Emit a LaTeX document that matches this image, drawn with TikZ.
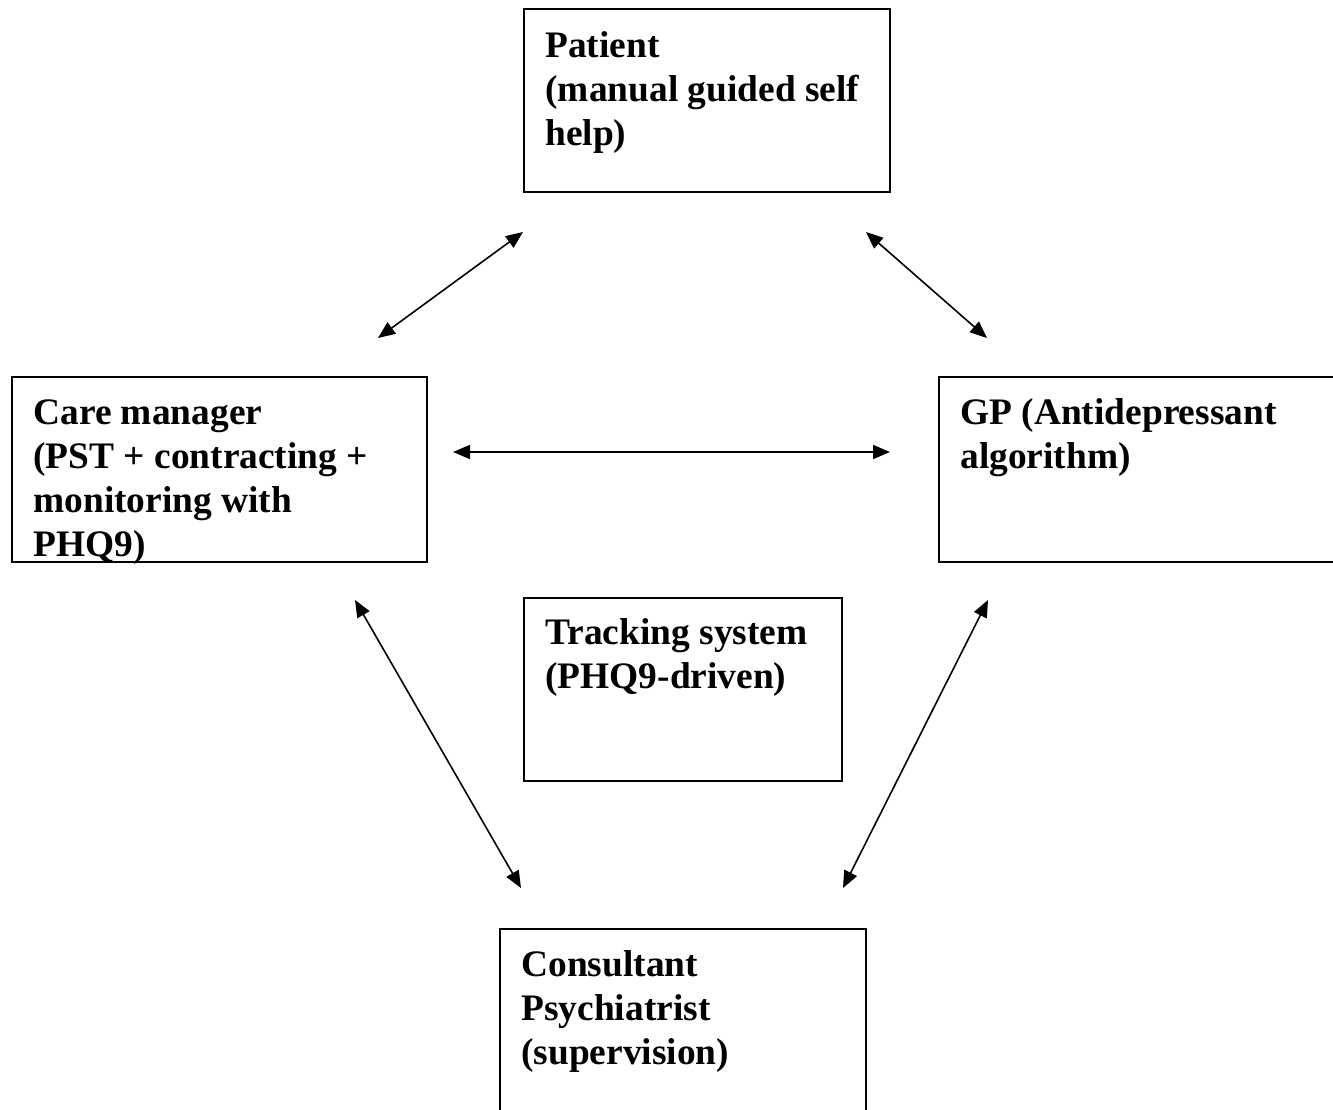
\documentclass[tikz,border=0pt]{standalone}
\usepackage{fontspec}
\setmainfont{Liberation Serif}
\usetikzlibrary{arrows.meta}

\tikzset{
  box/.style={draw,line width=1pt,inner sep=0pt,outer sep=0pt,anchor=north west},
  boxtext/.style={anchor=north west,inner sep=0pt,align=left,
    font=\fontsize{18.7pt}{22pt}\selectfont\bfseries},
  link/.style={{Triangle[length=8.5pt,width=7pt]}-{Triangle[length=8.5pt,width=7pt]},line width=0.8pt}
}

\begin{document}
\begin{tikzpicture}[x=0.5pt,y=-0.5pt]
\useasboundingbox (0,0) rectangle (1333,1109);
\clip (0,0) rectangle (1333,1109);

% boxes
\node[box,minimum width=183pt,minimum height=91.5pt] (patient) at (524,9) {};
\node[box,minimum width=207.5pt,minimum height=92.5pt] (care) at (12,377) {};
\node[box,minimum width=210pt,minimum height=92.5pt] (gp) at (939,377) {};
\node[box,minimum width=159pt,minimum height=91.5pt] (track) at (524,598) {};
\node[box,minimum width=183pt,minimum height=100pt] (consult) at (500,929) {};

% texts
\node[boxtext] (patient text) at ([shift={(21,22)}]patient.north west)
  {Patient\\(manual guided self\\help)};
\node[boxtext] (care text) at ([shift={(21,22)}]care.north west)
  {Care manager\\(PST + contracting +\\monitoring with\\PHQ9)};
\node[boxtext] (gp text) at ([shift={(21,21)}]gp.north west)
  {GP (Antidepressant\\algorithm)};
\node[boxtext] (track text) at ([shift={(21,20)}]track.north west)
  {Tracking system\\(PHQ9-driven)};
\node[boxtext] (consult text) at ([shift={(21,21)}]consult.north west)
  {Consultant\\Psychiatrist\\(supervision)};

% arrow ends
\coordinate (cm up) at (378,338);
\coordinate (pt left) at (523,232);
\coordinate (pt right) at (866,232);
\coordinate (gp up) at (987,338);
\coordinate (cm right) at (453,452);
\coordinate (gp left) at (890,452);
\coordinate (cm down) at (355,600);
\coordinate (cs left) at (521,888);
\coordinate (gp down) at (988,600);
\coordinate (cs right) at (843,888);

\draw[link] (cm up) -- (pt left);
\draw[link] (pt right) -- (gp up);
\draw[link] (cm right) -- (gp left);
\draw[link] (cm down) -- (cs left);
\draw[link] (gp down) -- (cs right);
\end{tikzpicture}
\end{document}
